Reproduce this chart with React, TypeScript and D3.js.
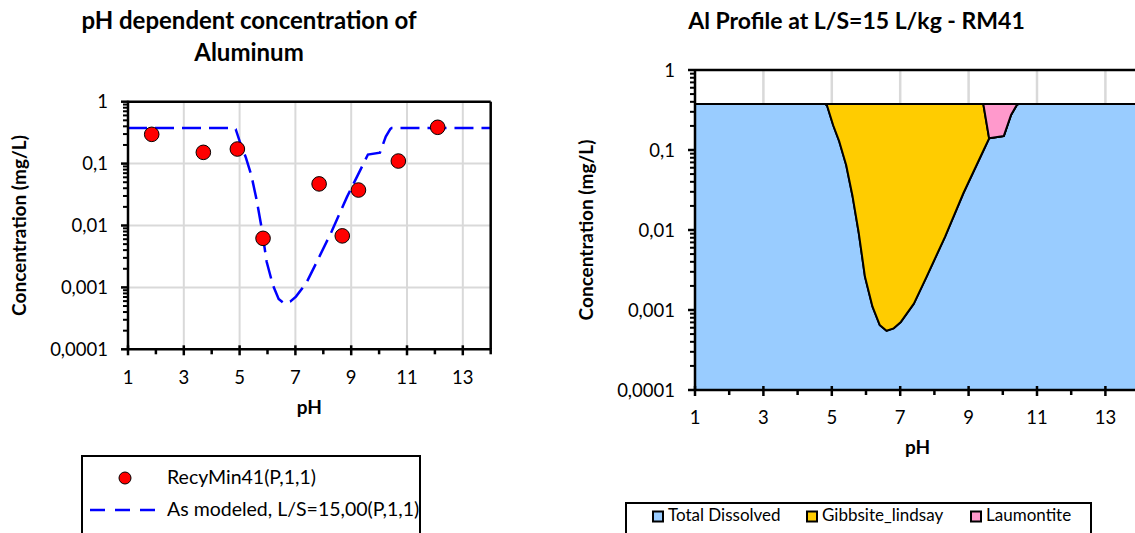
import React from "react";
import * as d3 from "d3";

// ---------- data ----------
const samplePH = [1.85, 3.7, 4.92, 5.84, 7.85, 8.68, 9.26, 10.69, 12.1];
const sampleConc = [0.297, 0.152, 0.172, 0.0062, 0.047, 0.0068, 0.0374, 0.11, 0.386];

const modelPH = [1, 4.8, 4.86, 5.04, 5.22, 5.42, 5.61, 5.79, 5.97, 6.19, 6.4, 6.6, 6.81, 7.02, 7.4, 7.77, 8.31, 8.85, 9.43, 9.6, 10.03, 10.24, 10.4, 10.45, 14];
const dissolved = [0.376, 0.376, 0.36, 0.204, 0.127, 0.065, 0.026, 0.0091, 0.0026, 0.0011, 0.00065, 0.00055, 0.00059, 0.00071, 0.0012, 0.0026, 0.0082, 0.029, 0.098, 0.14, 0.15, 0.274, 0.36, 0.376, 0.376];
const gibbsite = [0, 0, 0.016, 0.172, 0.249, 0.311, 0.35, 0.367, 0.373, 0.375, 0.375, 0.375, 0.375, 0.375, 0.375, 0.373, 0.368, 0.347, 0.278, 0, 0, 0, 0, 0, 0];
const laumontite = [0, 0, 0, 0, 0, 0, 0, 0, 0, 0, 0, 0, 0, 0, 0, 0, 0, 0, 0, 0.236, 0.226, 0.102, 0.016, 0, 0];

const xTicks = [1, 3, 5, 7, 9, 11, 13];
const xMinor = [2, 4, 6, 8, 10, 12, 14];
const yTicks = [0.0001, 0.001, 0.01, 0.1, 1];
const yTickLabels = ["0,0001", "0,001", "0,01", "0,1", "1"];

const leftTitle = ["pH dependent concentration of", "Aluminum"];
const rightTitle = "Al Profile at L/S=15 L/kg - RM41";
const yTitle = "Concentration (mg/L)";
const xTitle = "pH";
const legendLeft = ["RecyMin41(P,1,1)", "As modeled, L/S=15,00(P,1,1)"];
const stackKeys = ["Total Dissolved", "Gibbsite_lindsay", "Laumontite"];
const stackColors = ["#99CCFF", "#FFCC00", "#FF99CC"];

const FONT = "Lato, 'Open Sans', sans-serif";
const GRID = "#d9d9d9";

const minorY: number[] = [];
for (let e = -4; e < 0; e++) for (let k = 2; k <= 9; k++) minorY.push(k * Math.pow(10, e));

function Axes({ x, y, frame }: { x: any; y: any; frame: boolean }) {
  const [x0, x1] = x.range();
  const [yb, yt] = y.range();
  return (
    <g>
      {minorY.map((v, i) => (
        <line key={"my" + i} x1={x0 - 5} x2={x0} y1={y(v)} y2={y(v)} stroke="#000" strokeWidth={2} />
      ))}
      {yTicks.map((v, i) => (
        <line key={"My" + i} x1={x0 - 7} x2={x0} y1={y(v)} y2={y(v)} stroke="#000" strokeWidth={2.5} />
      ))}
      {xMinor.map((v, i) => (
        <line key={"mx" + i} x1={x(v)} x2={x(v)} y1={yb} y2={yb + 5} stroke="#000" strokeWidth={2.5} />
      ))}
      {xTicks.map((v, i) => (
        <line key={"Mx" + i} x1={x(v)} x2={x(v)} y1={yb - 4} y2={yb + 6} stroke="#000" strokeWidth={2.5} />
      ))}
      {frame && <line x1={x1} x2={x1} y1={yt} y2={yb} stroke="#000" strokeWidth={2.5} />}
      <line x1={x0} x2={x1} y1={yt} y2={yt} stroke="#000" strokeWidth={2.5} />
      <line x1={x0} x2={x0} y1={yt - 1} y2={yb + 1} stroke="#000" strokeWidth={2.5} />
      <line x1={x0 - 1} x2={x1 + 1} y1={yb} y2={yb} stroke="#000" strokeWidth={2.5} />
    </g>
  );
}

function TickLabels({ x, y, xBase }: { x: any; y: any; xBase: number }) {
  const [x0] = x.range();
  return (
    <g fontFamily={FONT} fontSize={18.5} fill="#000">
      {yTicks.map((v, i) => (
        <text key={"yl" + i} x={x0 - 20} y={y(v) + 6.5} textAnchor="end">{yTickLabels[i]}</text>
      ))}
      {xTicks.map((v, i) => (
        <text key={"xl" + i} x={x(v)} y={xBase} textAnchor="middle">{v}</text>
      ))}
    </g>
  );
}

function LeftChart() {
  const x = d3.scaleLinear().domain([1, 14]).range([128, 490.7]);
  const y = d3.scaleLog().domain([1e-4, 1]).range([349.3, 101.7]);
  const pts = modelPH.map((p, i) => [p, dissolved[i]] as [number, number]);
  const line = d3.line<[number, number]>().x((d) => x(d[0])).y((d) => y(d[1]));
  return (
    <g>
      <g fontFamily={FONT} fontWeight="bold" fontSize={24} textAnchor="middle">
        <text x={249} y={29}>{leftTitle[0]}</text>
        <text x={249} y={61}>{leftTitle[1]}</text>
      </g>
      {xTicks.slice(1).map((v, i) => (
        <line key={"gx" + i} x1={x(v)} x2={x(v)} y1={y(1)} y2={y(1e-4)} stroke={GRID} strokeWidth={2} />
      ))}
      {yTicks.slice(1, 4).map((v, i) => (
        <line key={"gy" + i} x1={x(1)} x2={x(14)} y1={y(v)} y2={y(v)} stroke={GRID} strokeWidth={2} />
      ))}
      <path d={line(pts) || ""} fill="none" stroke="#0000FF" strokeWidth={2.5} strokeDasharray="19 8" />
      {samplePH.map((p, i) => (
        <circle key={"pt" + i} cx={x(p)} cy={y(sampleConc[i])} r={7.3} fill="#FF0000" stroke="#000" strokeWidth={1} />
      ))}
      <Axes x={x} y={y} frame={true} />
      <TickLabels x={x} y={y} xBase={383.5} />
      <text x={309.3} y={414} fontFamily={FONT} fontWeight="bold" fontSize={19} textAnchor="middle">{xTitle}</text>
      <text transform={`translate(26,225.5) rotate(-90)`} fontFamily={FONT} fontWeight="bold" fontSize={19} textAnchor="middle">{yTitle}</text>
      <rect x={82} y={456} width={338} height={100} fill="#fff" stroke="#000" strokeWidth={2} />
      <circle cx={125} cy={478} r={6} fill="#FF0000" stroke="#000" strokeWidth={1} />
      <line x1={90} x2={159} y1={510} y2={510} stroke="#0000FF" strokeWidth={2.5} strokeDasharray="15 10" />
      <g fontFamily={FONT} fontSize={19.5}>
        <text x={167} y={484}>{legendLeft[0]}</text>
        <text x={167} y={516}>{legendLeft[1]}</text>
      </g>
    </g>
  );
}

function RightChart() {
  const x = d3.scaleLinear().domain([1, 14]).range([695, 695 + 13 * 34.2]);
  const y = d3.scaleLog().domain([1e-4, 1]).range([390, 70]);
  const rows = modelPH.map((p, i) => ({
    ph: p,
    [stackKeys[0]]: dissolved[i],
    [stackKeys[1]]: gibbsite[i],
    [stackKeys[2]]: laumontite[i],
  }));
  const series = d3.stack<any>().keys(stackKeys)(rows);
  const area = d3
    .area<any>()
    .x((d) => x(d.data.ph))
    .y0((d) => y(Math.max(d[0], 1e-4)))
    .y1((d) => y(Math.max(d[1], 1e-4)));
  return (
    <g>
      <text x={856.5} y={29} fontFamily={FONT} fontWeight="bold" fontSize={23} textAnchor="middle">{rightTitle}</text>
      {xTicks.slice(1).map((v, i) => (
        <line key={"gx" + i} x1={x(v)} x2={x(v)} y1={y(1)} y2={y(1e-4)} stroke={GRID} strokeWidth={2.5} />
      ))}
      {series.map((s, i) => (
        <path key={"a" + i} d={area(s as any) || ""} fill={stackColors[i]} stroke="#000" strokeWidth={2} strokeLinejoin="round" />
      ))}
      <Axes x={x} y={y} frame={true} />
      <TickLabels x={x} y={y} xBase={423.5} />
      <text x={917.5} y={454} fontFamily={FONT} fontWeight="bold" fontSize={19} textAnchor="middle">{xTitle}</text>
      <text transform={`translate(593,230) rotate(-90)`} fontFamily={FONT} fontWeight="bold" fontSize={19} textAnchor="middle">{yTitle}</text>
      <rect x={626} y={503} width={465} height={60} fill="#fff" stroke="#000" strokeWidth={2} />
      {stackKeys.map((k, i) => {
        const lx = [653, 807, 971][i];
        return (
          <g key={"lg" + i}>
            <rect x={lx} y={511.5} width={10} height={10} fill={stackColors[i]} stroke="#000" strokeWidth={2} />
            <text x={lx + 15} y={521} fontFamily={FONT} fontSize={17}>{k}</text>
          </g>
        );
      })}
    </g>
  );
}

export default function App() {
  return (
    <svg width={1135} height={533} style={{ position: "absolute", left: 0, top: 0, background: "#fff" }}>
      <rect x={0} y={0} width={1135} height={533} fill="#fff" />
      <LeftChart />
      <RightChart />
    </svg>
  );
}
